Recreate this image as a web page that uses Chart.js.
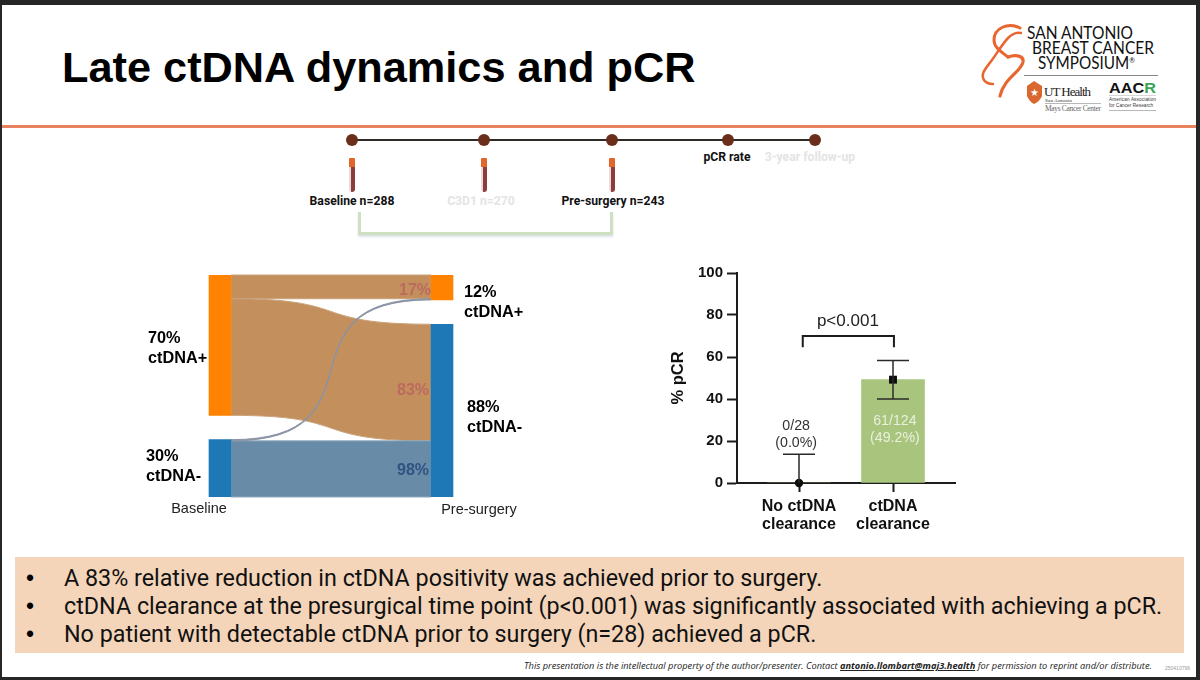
<!DOCTYPE html>
<html>
<head>
<meta charset="utf-8">
<title>Late ctDNA dynamics and pCR</title>
<script src="https://cdn.jsdelivr.net/npm/chart.js@4"></script>
<style>
  html, body { margin: 0; padding: 0; width: 1200px; height: 680px; overflow: hidden; background: #262626; }
  #slide { position: absolute; left: 2px; top: 5px; width: 1194px; height: 672px; background: #fff; }
  #page { position: absolute; left: 0; top: 0; width: 1200px; height: 680px; font-family: "Liberation Sans", Arial, sans-serif; color: #000; }
  #page > * { position: absolute; }
  canvas { position: absolute; }
  .rule { left: 2px; width: 1194px; top: 125px; height: 3px; background: #e9825f; }
  .title { left: 62px; top: 41px; font-size: 43.3px; line-height: 52px; font-weight: bold; white-space: nowrap; }
  .box { left: 15px; top: 557px; width: 1169px; height: 96px; background: #f5d5b9; }
  .dot { font-family: "Liberation Sans", sans-serif; font-size: 23px; line-height: 28px; left: 26px; }
  .bullet { font-family: Roboto, sans-serif; font-size: 23.3px; line-height: 28px; left: 64px; white-space: nowrap; color: #111; }
  .tl { font-family: Roboto, sans-serif; font-weight: bold; font-size: 12.2px; line-height: 14px; white-space: nowrap; transform: translateX(-50%); color: #111; }
  .tl.off { color: #e4e4e4; }
  .tube { width: 6px; height: 34px; top: 158px; margin-left: -3px; border-radius: 1px 1px 3px 3px; background: linear-gradient(#e2662c 0 9px, transparent 9px), linear-gradient(90deg, #e9dcd8 0 2px, #8e3b3e 2px); }
  .span { left: 358px; top: 212px; width: 249px; height: 20px; border: 3px solid #cfe0c0; border-top: none; box-shadow: 0 2px 2px rgba(150,170,190,0.35); }
  .foot { left: 524px; top: 659px; font-family: "Open Sans", sans-serif; font-style: italic; font-size: 9.25px; line-height: 13px; white-space: nowrap; color: #222; }
  .foot b { text-decoration: underline; }
  .stamp { left: 1165px; top: 665px; font-size: 5px; line-height: 7px; color: #999; }
  svg { left: 975px; top: 15px; }
</style>
</head>
<body>
<div id="slide"></div>
<div id="page">
  <div class="title">Late ctDNA dynamics and pCR</div>
  <div class="rule"></div>

  <svg width="200" height="105" viewBox="975 15 200 105">
    <g fill="none" stroke="#e8662f" stroke-linecap="round">
      <path d="M1020 28 C1008 22 994 28 994 40 C994 48 1002 52 1008 57" stroke-width="3"/>
      <path d="M1021 33 C1010 30 1002 46 992 60 C986 68 980 74 984 80 C986 83 990 84 993 84" stroke-width="2.5"/>
      <path d="M1008 57 C1016 54 1024 56 1023 62 C1021 72 1004 78 1000 96" stroke-width="3.2"/>
    </g>
    <g font-family="Lato, sans-serif" fill="#111" font-size="17.5">
      <text x="1027" y="39" textLength="106" lengthAdjust="spacingAndGlyphs">SAN ANTONIO</text>
      <text x="1032" y="54" textLength="122" lengthAdjust="spacingAndGlyphs">BREAST CANCER</text>
      <text x="1038" y="69" textLength="97" lengthAdjust="spacingAndGlyphs">SYMPOSIUM<tspan font-size="8" dy="-6">®</tspan></text>
    </g>
    <line x1="1024" x2="1158" y1="75.5" y2="75.5" stroke="#888"/>
    <path d="M1027 86 L1034 81 L1042 86 L1042 96 Q1040 101 1034 104 Q1029 101 1027 96 Z" fill="#d9672f"/>
    <text x="1034.5" y="96" text-anchor="middle" font-size="10" fill="#fff">★</text>
    <g font-family="'Liberation Serif', serif" fill="#222">
      <text x="1044" y="96" font-size="13" textLength="47">UT Health</text>
      <text x="1045" y="102" font-size="5" textLength="27">San Antonio</text>
      <text x="1045" y="111" font-size="7.5" fill="#666" textLength="56">Mays Cancer Center</text>
    </g>
    <line x1="1045" x2="1101" y1="103.5" y2="103.5" stroke="#999" stroke-width="0.7"/>
    <text x="1109" y="93" font-size="15.5" font-weight="bold" fill="#111" textLength="47" lengthAdjust="spacingAndGlyphs">AAC<tspan fill="#3aa655">R</tspan></text>
    <g font-size="4.6" fill="#333">
      <text x="1109" y="101" textLength="47">American Association</text>
      <text x="1109" y="107" textLength="44">for Cancer Research</text>
    </g>
    <line x1="1109" x2="1156" y1="110.5" y2="110.5" stroke="#999" stroke-width="0.7"/>
    <line x1="1109" x2="1156" y1="95.5" y2="95.5" stroke="#bbb" stroke-width="0.6"/>
  </svg>

  <div class="tube" style="left:352px"></div>
  <div class="tube" style="left:484px"></div>
  <div class="tube" style="left:612px"></div>
  <div class="tl" style="left:352px;top:194px">Baseline n=288</div>
  <div class="tl off" style="left:481px;top:194px">C3D1 n=270</div>
  <div class="tl" style="left:613px;top:194px">Pre-surgery n=243</div>
  <div class="tl" style="left:727px;top:150px">pCR rate</div>
  <div class="tl off" style="left:810px;top:150px">3-year follow-up</div>
  <div class="span"></div>

  <canvas id="timelineChart" width="510" height="30" style="left:330px;top:125px"></canvas>
  <canvas id="sankeyChart" width="444" height="255" style="left:109px;top:265px"></canvas>
  <canvas id="pcrChart" width="300" height="280" style="left:660px;top:260px"></canvas>

  <div class="box"></div>
  <div class="dot" style="top:564px">•</div>
  <div class="dot" style="top:592px">•</div>
  <div class="dot" style="top:620px">•</div>
  <div class="bullet" style="top:564px">A 83% relative reduction in ctDNA positivity was achieved prior to surgery.</div>
  <div class="bullet" style="top:592px">ctDNA clearance at the presurgical time point (p&lt;0.001) was significantly associated with achieving a pCR.</div>
  <div class="bullet" style="top:620px">No patient with detectable ctDNA prior to surgery (n=28) achieved a pCR.</div>

  <div class="foot">This presentation is the intellectual property of the author/presenter. Contact <b>antonio.llombart@maj3.health</b> for permission to reprint and/or distribute.</div>
  <div class="stamp">250410796</div>
</div>

<script>
// --- data ---
const timelinePositions = [0, 132, 260, 376, 463];

const sankeyColumns = ['Baseline', 'Pre-surgery'];
const positiveHeights = [71, 12.6];
const negativeHeights = [29, 87.4];
const sankeyGap = 12.3;
// positive->positive, positive->negative, negative->positive, negative->negative
const flowValues = [12, 59, 0.6, 28.4];
const flowPercents = ['17%', '83%', null, '98%'];

const pcrPositions = [1, 2];
const pcrLabels = [['No ctDNA', 'clearance'], ['ctDNA', 'clearance']];
const pcrValues = [0, 49.2];
const pcrLower = [0, 40];
const pcrUpper = [13.7, 58.3];
const pcrCounts = [['0/28', '(0.0%)'], ['61/124', '(49.2%)']];
const yTicks = [0, 20, 40, 60, 80, 100];

const INK = '#1c1c1c';
Chart.defaults.animation = false;
Chart.defaults.font.family = '"Liberation Sans", Arial, sans-serif';

// --- Timeline ---
new Chart(document.getElementById('timelineChart'), {
    type: 'line',
    data: {
        datasets: [{
            data: timelinePositions.map(p => ({ x: p, y: 0 })),
            borderColor: '#2e2a28',
            borderWidth: 2,
            pointRadius: 6,
            pointBackgroundColor: '#6b2e1b',
            pointBorderWidth: 0
        }]
    },
    options: {
        responsive: false,
        layout: { autoPadding: false },
        plugins: { legend: { display: false }, tooltip: { enabled: false } },
        scales: {
            x: { type: 'linear', display: false, min: -22, max: 488 },
            y: { display: false, min: -1, max: 1 }
        }
    }
});

// --- Sankey: nodes are floating bars, ribbons are drawn from the same scales ---
function ribbon(ctx, ys, t0, b0, t1, b1, x0, x1, fill, stroke, bendShare) {
    const bend = (x1 - x0) * bendShare;
    const p = v => ys.getPixelForValue(v);
    ctx.beginPath();
    ctx.moveTo(x0, p(t0));
    ctx.bezierCurveTo(x0 + bend, p(t0), x1 - bend, p(t1), x1, p(t1));
    ctx.lineTo(x1, p(b1));
    ctx.bezierCurveTo(x1 - bend, p(b1), x0 + bend, p(b0), x0, p(b0));
    ctx.closePath();
    ctx.fillStyle = fill;
    ctx.fill();
    ctx.strokeStyle = stroke;
    ctx.lineWidth = 1;
    ctx.stroke();
}

const sankeyTop = negativeHeights[0] + sankeyGap + positiveHeights[0];

const sankeyPlugin = {
    id: 'sankeyRibbons',
    beforeDatasetsDraw(chart) {
        const { ctx, scales: { x, y } } = chart;
        const x0 = x.getPixelForValue(0) + 11;
        const x1 = x.getPixelForValue(1) - 11;
        const [pp, pn, np, nn] = flowValues;
        ctx.save();
        ribbon(ctx, y, sankeyTop - pp, sankeyTop - pp - pn, negativeHeights[1], negativeHeights[1] - pn, x0, x1, '#c38f5d', '#c9a27c', 0.62);
        ribbon(ctx, y, nn, 0, nn, 0, x0, x1, '#688ba8', '#8fa8bd', 0.5);
        ribbon(ctx, y, sankeyTop, sankeyTop - pp, sankeyTop, sankeyTop - pp, x0, x1, '#c38f5d', '#c9a27c', 0.5);
        ribbon(ctx, y, nn + np, nn, sankeyTop - pp, sankeyTop - pp - np, x0, x1, '#8a94a4', '#8a94a4', 0.8);
        ctx.restore();
    },
    afterDatasetsDraw(chart) {
        const { ctx, scales: { x } } = chart;
        const textAt = (str, px, py, font, color, align) => {
            ctx.font = font;
            ctx.fillStyle = color;
            ctx.textAlign = align || 'left';
            ctx.textBaseline = 'middle';
            ctx.fillText(str, px, py);
        };
        const top = -265; // page y -> canvas y
        const right = x.getPixelForValue(1) - 11;
        ctx.save();
        const pctFont = 'bold 16px "Liberation Sans"';
        textAt(flowPercents[0], right, 291 + top, pctFont, '#bd6a5e', 'right');
        textAt(flowPercents[1], right - 2, 391 + top, pctFont, '#bd6a5e', 'right');
        textAt(flowPercents[3], right - 2, 471 + top, pctFont, '#2f5382', 'right');
        const nodeFont = 'bold 16.3px "Liberation Sans"';
        [['70%', 'ctDNA+', 39, 339, 359], ['30%', 'ctDNA-', 37, 457, 477],
         ['12%', 'ctDNA+', 355, 293, 313], ['88%', 'ctDNA-', 358, 408, 428]].forEach(n => {
            textAt(n[0], n[2], n[3] + top, nodeFont, '#000');
            textAt(n[1], n[2], n[4] + top, nodeFont, '#000');
        });
        const colFont = '14.5px "Liberation Sans"';
        textAt(sankeyColumns[0], 90, 509 + top, colFont, '#222', 'center');
        textAt(sankeyColumns[1], 370, 510 + top, colFont, '#222', 'center');
        ctx.restore();
    }
};

new Chart(document.getElementById('sankeyChart'), {
    type: 'bar',
    data: {
        labels: sankeyColumns,
        datasets: [
            {
                data: negativeHeights.map(h => [0, h]),
                backgroundColor: '#1f78b6',
                barThickness: 22,
                grouped: false
            },
            {
                data: positiveHeights.map((h, i) => [negativeHeights[i] + sankeyGap, negativeHeights[i] + sankeyGap + h]),
                backgroundColor: '#ff8200',
                barThickness: 22,
                grouped: false
            }
        ]
    },
    options: {
        responsive: false,
        layout: { padding: { top: 10, bottom: 23 } },
        plugins: { legend: { display: false }, tooltip: { enabled: false } },
        scales: {
            x: { display: false },
            y: { display: false, min: 0, max: sankeyTop }
        }
    },
    plugins: [sankeyPlugin]
});

// --- pCR bars ---
const pcrPlugin = {
    id: 'pcrExtras',
    afterDatasetsDraw(chart) {
        const { ctx, scales: { x, y } } = chart;
        ctx.save();
        ctx.strokeStyle = '#2a2a2a';
        ctx.lineWidth = 1.5;
        pcrPositions.forEach((pos, i) => {
            const px = x.getPixelForValue(pos);
            ctx.beginPath();
            ctx.moveTo(px, y.getPixelForValue(pcrLower[i]));
            ctx.lineTo(px, y.getPixelForValue(pcrUpper[i]));
            if (pcrLower[i] > 0) {
                ctx.moveTo(px - 16, y.getPixelForValue(pcrLower[i]));
                ctx.lineTo(px + 16, y.getPixelForValue(pcrLower[i]));
            }
            ctx.moveTo(px - 16, y.getPixelForValue(pcrUpper[i]));
            ctx.lineTo(px + 16, y.getPixelForValue(pcrUpper[i]));
            ctx.stroke();
        });

        // significance bracket
        ctx.strokeStyle = INK;
        ctx.lineWidth = 2;
        ctx.beginPath();
        ctx.moveTo(x.getPixelForValue(1.04), y.getPixelForValue(64.6));
        ctx.lineTo(x.getPixelForValue(1.04), y.getPixelForValue(70));
        ctx.lineTo(x.getPixelForValue(2.01), y.getPixelForValue(70));
        ctx.lineTo(x.getPixelForValue(2.01), y.getPixelForValue(64.6));
        ctx.stroke();

        ctx.textAlign = 'center';
        ctx.textBaseline = 'middle';
        ctx.fillStyle = '#222';
        ctx.font = '17px "Liberation Sans"';
        ctx.fillText('p<0.001', x.getPixelForValue(1.52), y.getPixelForValue(77));
        ctx.font = '14.2px "Liberation Sans"';
        ctx.fillStyle = '#333';
        ctx.fillText(pcrCounts[0][0], x.getPixelForValue(0.97), y.getPixelForValue(27.1));
        ctx.fillText(pcrCounts[0][1], x.getPixelForValue(0.97), y.getPixelForValue(19));
        ctx.fillStyle = '#e8f0dc';
        ctx.fillText(pcrCounts[1][0], x.getPixelForValue(2.02), y.getPixelForValue(29.5));
        ctx.fillText(pcrCounts[1][1], x.getPixelForValue(2.02), y.getPixelForValue(21.3));
        ctx.restore();
    }
};

new Chart(document.getElementById('pcrChart'), {
    type: 'bar',
    data: {
        datasets: [
            {
                type: 'line',
                data: pcrPositions.map((p, i) => ({ x: p, y: pcrValues[i] })),
                showLine: false,
                clip: false,
                order: 0,
                pointStyle: ['circle', 'rect'],
                pointRadius: [4.2, 5.6],
                pointBackgroundColor: '#0d0d0d',
                pointBorderWidth: 0
            },
            {
                data: pcrPositions.map((p, i) => ({ x: p, y: pcrValues[i] })),
                backgroundColor: '#a8c47d',
                barThickness: 63,
                order: 1
            }
        ]
    },
    options: {
        responsive: false,
        layout: { autoPadding: false, padding: { top: 12, right: 5 } },
        plugins: { legend: { display: false }, tooltip: { enabled: false } },
        scales: {
            x: {
                type: 'linear',
                offset: false,
                min: 1 - 62 / 94,
                max: 2 + 62 / 94,
                afterBuildTicks: axis => { axis.ticks = pcrPositions.map(v => ({ value: v })); },
                afterFit: axis => { axis.height = 57; },
                border: { color: INK, width: 2 },
                grid: { offset: false, drawOnChartArea: false, tickLength: 9, tickWidth: 2, tickColor: INK },
                ticks: {
                    autoSkip: false,
                    maxRotation: 0,
                    padding: 6,
                    color: '#111',
                    font: { size: 16, weight: 'bold', lineHeight: 1.125 },
                    callback: value => pcrLabels[pcrPositions.indexOf(value)]
                }
            },
            y: {
                min: 0,
                max: 100,
                afterBuildTicks: axis => { axis.ticks = yTicks.map(v => ({ value: v })); },
                afterFit: axis => { axis.width = 77; },
                border: { color: INK, width: 2 },
                grid: { drawOnChartArea: false, tickLength: 10, tickWidth: 2, tickColor: INK },
                title: {
                    display: true,
                    text: '% pCR',
                    color: '#111',
                    padding: { top: 9, bottom: 0 },
                    font: { size: 16.5, weight: 'bold' }
                },
                ticks: {
                    padding: 4,
                    color: '#111',
                    font: { size: 15, weight: 'bold' }
                }
            }
        }
    },
    plugins: [pcrPlugin]
});
</script>
</body>
</html>
